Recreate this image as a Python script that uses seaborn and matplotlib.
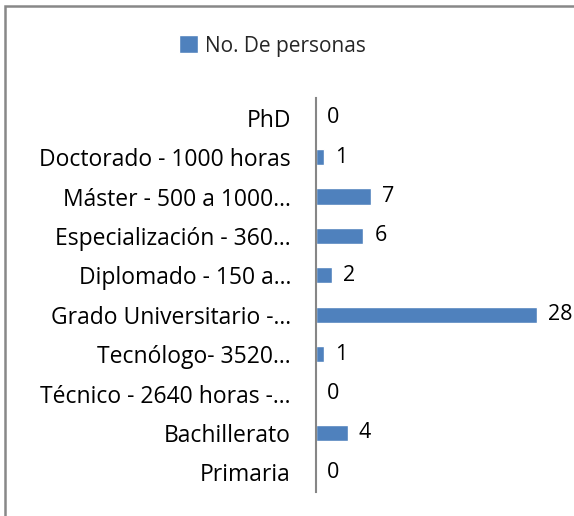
import seaborn as sns
import matplotlib.pyplot as plt
import pandas as pd
from matplotlib.patches import Rectangle

sns.set_theme(style='white')
plt.rcParams['font.family'] = ['Open Sans', 'DejaVu Sans']

categories = ["PhD", "Doctorado - 1000 horas", "Máster - 500 a 1000…",
              "Especialización - 360…", "Diplomado - 150 a…",
              "Grado Universitario -…", "Tecnólogo- 3520…",
              "Técnico - 2640 horas -…", "Bachillerato", "Primaria"]
values = [0, 1, 7, 6, 2, 28, 1, 0, 4, 0]
series_name = "No. De personas"

df = pd.DataFrame({"nivel": categories, "personas": values})

fig = plt.figure(figsize=(5.74, 5.16), dpi=100)
ax = fig.add_axes([316 / 574, 24 / 516, 237 / 574, 394 / 516])

sns.barplot(data=df, x="personas", y="nivel", orient="h", color="#4F81BD",
            width=0.41, saturation=1, ax=ax)

ax.set_xlim(0, 30)
ax.set_ylim(9.5, -0.5)
ax.set_xlabel("")
ax.set_ylabel("")
ax.set_xticks([])
for side in ["top", "right", "bottom"]:
    ax.spines[side].set_visible(False)
ax.spines["left"].set_color("#868686")
ax.spines["left"].set_linewidth(1.5)
ax.tick_params(axis="y", length=0, pad=18, labelsize=16.5, labelcolor="black")

for i, v in enumerate(values):
    ax.annotate(str(v), (v, i), xytext=(8, 0), textcoords="offset points",
                va="center", ha="left", fontsize=15.5, color="black")

fig.legend(handles=ax.patches[:1], labels=[series_name], loc="center",
           bbox_to_anchor=(272 / 574, 1 - 46 / 516), frameon=False,
           fontsize=15, handlelength=0.95, handleheight=0.95, handletextpad=0.3)

fig.patches.append(Rectangle((5 / 574, -0.1), 1.2, 1.1 - 6 / 516, transform=fig.transFigure,
                             fill=False, edgecolor="#888888", linewidth=1.8))

fig.savefig("out.png", dpi=100)
